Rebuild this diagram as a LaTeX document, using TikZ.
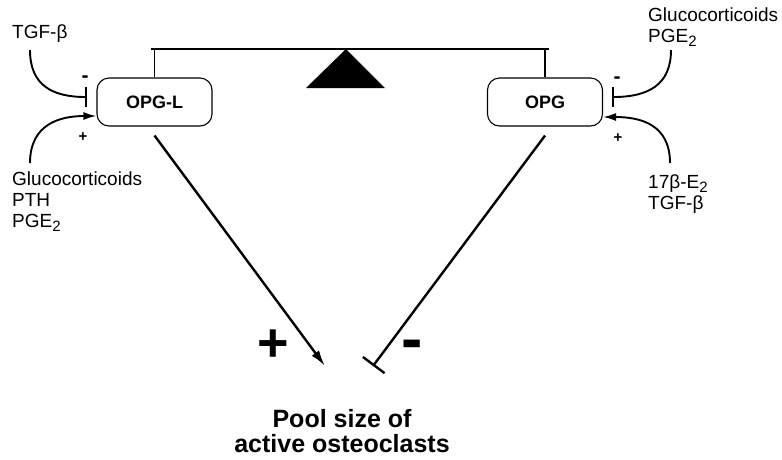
\documentclass[tikz,border=0pt]{standalone}
\usepackage{fontspec}
\setmainfont{Liberation Sans}
\usetikzlibrary{arrows.meta}
\newcommand\sbtwo{\raisebox{-0.35ex}{\fontsize{15}{15}\selectfont 2}}
\begin{document}
\begin{tikzpicture}[x=1pt,y=-1pt,
  factor/.style={inner sep=0pt,align=left,font=\fontsize{19}{21}\selectfont},
  gene/.style={draw,line width=1.1pt,rounded corners=12pt,minimum width=115pt,minimum height=48pt,inner sep=0pt,font=\bfseries\fontsize{18}{18}\selectfont},
  sign/.style={inner sep=0pt,font=\bfseries\fontsize{15}{15}\selectfont},
  minussign/.style={inner sep=0pt,font=\bfseries\fontsize{21}{21}\selectfont},
  bigsign/.style={inner sep=0pt,font=\bfseries\fontsize{54}{54}\selectfont},
  bigminus/.style={inner sep=0pt,font=\bfseries\fontsize{64}{64}\selectfont},
  curve/.style={line width=1.9pt},
  stim/.style={curve,-{Latex[length=13pt,width=8pt]}},
  inhib/.style={curve,-{Bar[width=20pt,line width=2pt]}},
  longline/.style={line width=2.4pt}]
\useasboundingbox (0,0) rectangle (782,459);

% boxes
\node[gene] (opgl) at (154.5,102) {OPG-L};
\node[gene] (opg) at (545,102) {OPG};

% balance beam
\coordinate (beamL) at (151,49);
\coordinate (beamR) at (549,49);
\draw[line width=1.1pt] (beamL) -- (beamR);
\draw[line width=1.1pt] (opgl.north) -- (opgl.north |- beamL);
\draw[line width=1.1pt] (opg.north) -- (opg.north |- beamR);
\coordinate (pivot) at (346,49);
\fill (pivot) -- (306,88) -- (385,88) -- cycle;

% left factors
\node[factor,anchor=west] (tgfL) at (12,34) {TGF-β};
\node[factor,anchor=north west] (stimL) at (12,172) {Glucocorticoids\\PTH\\PGE\sbtwo};
\coordinate (tgfLs) at (30,50);
\coordinate (stimLs) at (30,163);
\coordinate (inhLe) at (87,97);
\draw[inhib] (tgfLs) .. controls (30,85) and (52,97) .. (inhLe);
\draw[stim] (stimLs) .. controls (30,124) and (60,116) .. (opgl.west |- 0,116);
\node[minussign] (mL) at (85,79) {-};
\node[sign] (pL) at (83,137) {+};

% right factors
\node[factor,anchor=north west] (inhR) at (648,8) {Glucocorticoids\\PGE\sbtwo};
\node[factor,anchor=north west] (stimR) at (648,175) {17β-E\sbtwo\\TGF-β};
\coordinate (inhRs) at (671,50);
\coordinate (stimRs) at (670,163);
\coordinate (inhRe) at (612,97);
\draw[inhib] (inhRs) .. controls (671,85) and (648,97) .. (inhRe);
\draw[stim] (stimRs) .. controls (670,124) and (640,117) .. (opg.east |- 0,117);
\node[minussign] (mR) at (617,80) {-};
\node[sign] (pR) at (618,138) {+};

% long connectors
\coordinate (plusEnd) at (325,366);
\coordinate (barEnd) at (373,366);
\draw[longline,-{Latex[length=16pt,width=9pt]}] ([yshift=-9pt]opgl.south) -- (plusEnd);
\draw[longline,-{Bar[width=27pt,line width=2.4pt]}] ([yshift=-9pt]opg.south) -- (barEnd);
\node[bigsign] (bigPlus) at (273,346) {+};
\node[bigminus] (bigMinus) at (412,350) {-};

% pool
\node[inner sep=0pt,align=center,font=\bfseries\fontsize{25}{25}\selectfont] (pool) at (342,431) {Pool size of\\active osteoclasts};
\end{tikzpicture}
\end{document}
